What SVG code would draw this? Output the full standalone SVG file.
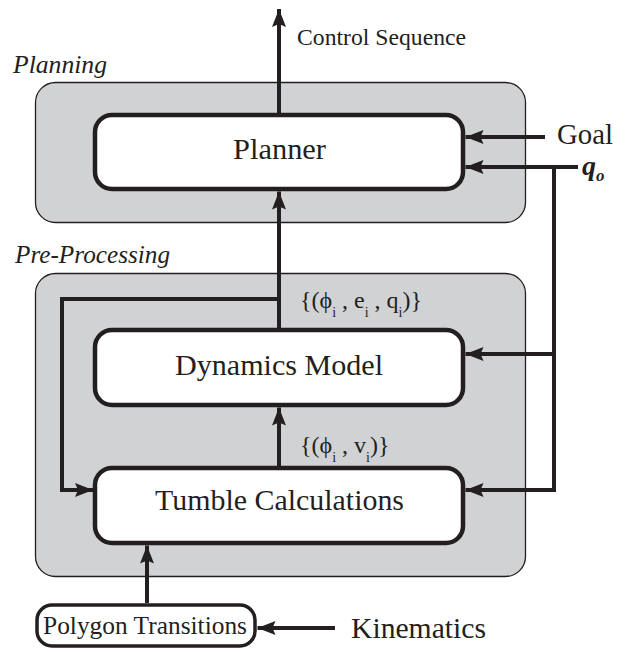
<svg xmlns="http://www.w3.org/2000/svg" width="626" height="652" viewBox="0 0 626 652">
  <style>
    .panel { fill: #d1d2d4; stroke: #231f20; stroke-width: 1.3; }
    .node { fill: #ffffff; stroke: #231f20; stroke-width: 4.5; }
    .small-node { fill: #ffffff; stroke: #231f20; stroke-width: 3.5; }
    .wire { fill: none; stroke: #231f20; stroke-width: 4; }
    .serif { font-family: "Liberation Serif", "Times New Roman", serif; fill: #231f20; }
    .title { font-size: 30px; }
    .tag { font-size: 25px; font-style: italic; }
    .math { font-size: 24px; }
    .sub { font-size: 14px; }
  </style>
  <defs>
    <marker id="arrow" markerUnits="userSpaceOnUse" markerWidth="20" markerHeight="16" refX="18" refY="7.5" orient="auto" viewBox="0 0 20 15">
      <path d="M18,7.5 L0,0.5 L3,7.5 L0,14.5 Z" fill="#231f20"/>
    </marker>
  </defs>

  <!-- grey panels -->
  <g id="planning-panel">
    <rect class="panel" x="35.5" y="82.5" width="490" height="140" rx="20"/>
    <text class="serif tag" x="13" y="73" textLength="94" lengthAdjust="spacingAndGlyphs">Planning</text>
  </g>
  <g id="preprocessing-panel">
    <rect class="panel" x="35.5" y="273.5" width="490" height="303" rx="20"/>
    <text class="serif tag" x="15" y="263" textLength="155" lengthAdjust="spacingAndGlyphs">Pre-Processing</text>
  </g>

  <!-- connectors -->
  <g id="connectors">
    <path class="wire" d="M279,115 V9" marker-end="url(#arrow)"/>
    <path class="wire" d="M279,330 V191.5" marker-end="url(#arrow)"/>
    <path class="wire" d="M279,299 H62 V490 H93" marker-end="url(#arrow)"/>
    <path class="wire" d="M279,468 V407.5" marker-end="url(#arrow)"/>
    <path class="wire" d="M147,603 V545.5" marker-end="url(#arrow)"/>
    <path class="wire" d="M335,628 H257.5" marker-end="url(#arrow)"/>
    <path class="wire" d="M545,137 H465.5" marker-end="url(#arrow)"/>
    <path class="wire" d="M578,167 H465.5" marker-end="url(#arrow)"/>
    <path class="wire" d="M554,165 V490 H465.5" marker-end="url(#arrow)"/>
    <path class="wire" d="M554,354 H465.5" marker-end="url(#arrow)"/>
  </g>

  <!-- nodes -->
  <g id="planner">
    <rect class="node" x="95" y="115" width="368" height="74" rx="17"/>
    <text class="serif title" x="233" y="159" textLength="93" lengthAdjust="spacingAndGlyphs">Planner</text>
  </g>
  <g id="dynamics-model">
    <rect class="node" x="95" y="330" width="368" height="75" rx="17"/>
    <text class="serif title" x="175" y="375" textLength="208" lengthAdjust="spacingAndGlyphs">Dynamics Model</text>
  </g>
  <g id="tumble-calculations">
    <rect class="node" x="95" y="468" width="368" height="75" rx="17"/>
    <text class="serif title" x="155" y="510" textLength="249" lengthAdjust="spacingAndGlyphs">Tumble Calculations</text>
  </g>
  <g id="polygon-transitions">
    <rect class="small-node" x="37" y="605" width="218" height="41" rx="15"/>
    <text class="serif" font-size="26" x="43" y="634" textLength="204" lengthAdjust="spacingAndGlyphs">Polygon Transitions</text>
  </g>

  <!-- edge labels and inputs -->
  <g id="labels">
    <text class="serif" font-size="24" x="297" y="45" textLength="169" lengthAdjust="spacingAndGlyphs">Control Sequence</text>
    <text class="serif" font-size="29" x="557" y="144" textLength="56" lengthAdjust="spacingAndGlyphs">Goal</text>
    <text class="serif" font-size="28" font-weight="bold" font-style="italic" x="582" y="175">q<tspan font-size="17" dy="6">o</tspan></text>
    <text class="serif" font-size="30" x="351" y="638" textLength="135" lengthAdjust="spacingAndGlyphs">Kinematics</text>
    <text class="serif math" x="300" y="308">{(ϕ<tspan class="sub" dy="9">i</tspan><tspan dy="-9"> , e</tspan><tspan class="sub" dy="9">i</tspan><tspan dy="-9"> , q</tspan><tspan class="sub" dy="9">i</tspan><tspan dy="-9">)}</tspan></text>
    <text class="serif math" x="300" y="453">{(ϕ<tspan class="sub" dy="9">i</tspan><tspan dy="-9"> , v</tspan><tspan class="sub" dy="9">i</tspan><tspan dy="-9">)}</tspan></text>
  </g>
</svg>
